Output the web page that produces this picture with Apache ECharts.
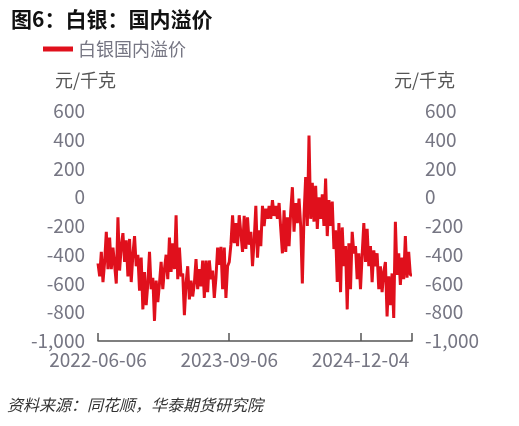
<!DOCTYPE html>
<html>
<head>
<meta charset="utf-8">
<script src="https://cdn.jsdelivr.net/npm/echarts@6/dist/echarts.min.js"></script>
<style>
html,body{margin:0;padding:0;background:#fff;}
#c{width:519px;height:426px;}
</style>
</head>
<body>
<div id="c"></div>
<script>
const seriesName = '白银国内溢价';
const tickLabels = ['2022-06-06', '2023-09-06', '2024-12-04'];
const tickIndex = [0, 79, 158];
const premium = [
  -460,-550,-380,-590,-450,-240,-500,-280,-500,-350,-470,-600,-140,-510,-340,-250,-450,-300,-550,-290,
  -590,-400,-270,-480,-400,-650,-420,-780,-520,-750,-600,-380,-640,-560,-860,-580,-730,-600,-450,-640,
  -500,-400,-570,-280,-520,-320,-500,-125,-570,-350,-550,-530,-820,-600,-480,-710,-580,-690,-600,-430,
  -640,-500,-620,-440,-700,-440,-660,-440,-570,-510,-700,-560,-350,-470,-345,-640,-350,-700,-480,-450,
  -330,-125,-320,-180,-340,-125,-250,
  -380,-130,-360,-140,-330,-240,-480,-300,-60,-420,-230,-340,-60,-200,-80,-150,-60,-150,-20,-130,
  -60,-150,-40,-220,-390,-90,-380,-140,-340,-100,70,-240,-40,-180,-10,-200,-600,-130,140,-200,
  430,-150,100,-170,80,-220,0,-150,20,-200,130,-270,-20,-200,-30,-360,-230,-590,-180,-660,
  -210,-480,-340,-780,-320,-640,-240,-390,-340,-570,-390,-640,-400,-180,-450,-220,-480,-340,-590,-370,
  -480,-390,-640,-480,-660,-520,-450,-830,-550,-750,-530,-840,-170,-540,-390,-610,-420,-570,-270,-560,
  -380,-540,-540
];
const categories = premium.map((v, i) => {
  const k = tickIndex.indexOf(i);
  return k >= 0 ? tickLabels[k] : '';
});
const lastIdx = premium.length - 1;

const chart = echarts.init(document.getElementById('c'), null, {renderer: 'canvas'});
const labelColor = '#767683';
const fontFam = '"Noto Sans CJK SC", "Noto Sans", sans-serif';
const yAxisCommon = {
  type: 'value', min: -1000, max: 600, interval: 200,
  axisLine: {show: false}, axisTick: {show: false}, splitLine: {show: false},
  axisLabel: {
    color: labelColor, fontSize: 19, fontFamily: fontFam, margin: 13,
    formatter: v => v.toLocaleString('en-US')
  }
};
chart.setOption({
  animation: false,
  backgroundColor: '#fff',
  title: {
    text: '图6：白银：国内溢价', left: 6, top: 4,
    textStyle: {fontSize: 21, fontWeight: 'bold', color: '#111', fontFamily: fontFam}
  },
  legend: {
    left: 38, top: 35, icon: 'rect', itemWidth: 30, itemHeight: 5, itemGap: 8,
    textStyle: {color: labelColor, fontSize: 18, fontFamily: fontFam},
    data: [seriesName]
  },
  graphic: [
    {type: 'text', left: 55, top: 71, style: {text: '元/千克', fill: '#555', fontSize: 18, fontFamily: fontFam}},
    {type: 'text', left: 394, top: 71, style: {text: '元/千克', fill: '#555', fontSize: 18, fontFamily: fontFam}},
    {type: 'text', left: 7, top: 397, style: {text: '资料来源：同花顺，华泰期货研究院', fill: '#333', fontSize: 16, fontStyle: 'italic', fontFamily: fontFam}}
  ],
  grid: {left: 98, right: 107, top: 111, bottom: 85, containLabel: false},
  xAxis: {
    type: 'category', boundaryGap: false, data: categories,
    axisLine: {show: true, onZero: false, lineStyle: {color: '#555', width: 1.5}},
    axisTick: {show: true, inside: true, length: 8, lineStyle: {color: '#555', width: 1.5},
      interval: (i) => tickIndex.indexOf(i) >= 0 || i === lastIdx},
    axisLabel: {color: labelColor, fontSize: 19, fontFamily: fontFam, margin: 9,
      interval: (i) => tickIndex.indexOf(i) >= 0},
    splitLine: {show: false}
  },
  yAxis: [
    Object.assign({}, yAxisCommon, {position: 'left'}),
    Object.assign({}, yAxisCommon, {position: 'right', axisLabel: Object.assign({}, yAxisCommon.axisLabel, {align: 'left'})})
  ],
  series: [{
    name: seriesName, type: 'line', data: premium, yAxisIndex: 0,
    symbol: 'none', lineStyle: {color: '#e0101c', width: 3}, itemStyle: {color: '#e0101c'}
  }]
});
</script>
</body>
</html>
